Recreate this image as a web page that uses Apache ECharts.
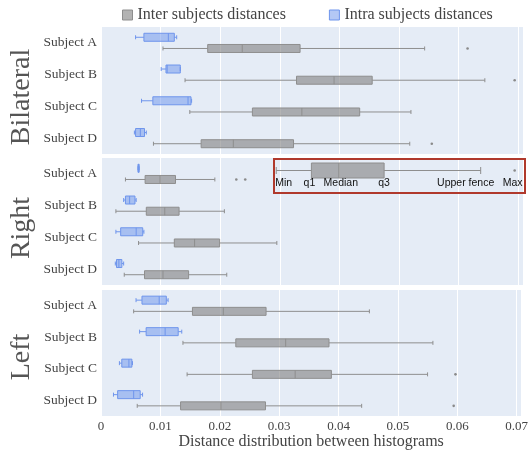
<!DOCTYPE html>
<html>
<head>
<meta charset="utf-8">
<script src="https://cdn.jsdelivr.net/npm/echarts@6/dist/echarts.min.js"></script>
<style>html,body{margin:0;padding:0;background:#fff}#c{width:531px;height:453px}</style>
</head>
<body>
<div id="c"></div>
<script>
// ---- DATA: each row = [lower whisker, q1, median, q3, upper whisker] ----
const subjects = ['Subject A', 'Subject B', 'Subject C', 'Subject D'];
const panels = ['Bilateral', 'Right', 'Left'];
const seriesNames = ['Inter subjects distances', 'Intra subjects distances'];
const xTicks = [0, 0.01, 0.02, 0.03, 0.04, 0.05, 0.06, 0.07];

const bilateralIntra = [[0.0058,0.0072,0.0113,0.0123,0.0127],[0.0101,0.0109,0.0111,0.0133,0.0133],[0.0068,0.0087,0.0146,0.0151,0.0152],[0.0056,0.0058,0.0066,0.0073,0.0076]];
const bilateralInter = [[0.0104,0.0179,0.0237,0.0334,0.0543],[0.0141,0.0328,0.0391,0.0455,0.0644],[0.0149,0.0254,0.0337,0.0434,0.0520],[0.0088,0.0168,0.0222,0.0323,0.0518]];
const bilateralOutliers = [[0,0.0615],[1,0.0694],[3,0.0555]];

const rightIntra = [[0.0062,0.0062,0.0063,0.0064,0.0064],[0.0038,0.0041,0.0048,0.0057,0.0059],[0.0025,0.0033,0.0059,0.0070,0.0072],[0.0024,0.0026,0.0030,0.0035,0.0038]];
const rightInter = [[0.0041,0.0074,0.0099,0.0125,0.0191],[0.0025,0.0076,0.0107,0.0131,0.0207],[0.0063,0.0123,0.0157,0.0199,0.0295],[0.0039,0.0073,0.0104,0.0147,0.0211]];
const rightOutliers = [[0,0.0227],[0,0.0242]];

const leftIntra = [[0.0059,0.0069,0.0098,0.0110,0.0113],[0.0065,0.0076,0.0108,0.0130,0.0136],[0.0031,0.0035,0.0047,0.0052,0.0053],[0.0021,0.0028,0.0055,0.0066,0.0070]];
const leftInter = [[0.0055,0.0154,0.0206,0.0278,0.0452],[0.0138,0.0227,0.0311,0.0384,0.0559],[0.0145,0.0255,0.0327,0.0388,0.0550],[0.0061,0.0134,0.0202,0.0277,0.0439]];
const leftOutliers = [[2,0.0597],[3,0.0594]];

// key (inset) box: [min, q1, median, q3, upper fence] and max outlier
const keyBox = [0.0294,0.0353,0.0399,0.0475,0.0637];
const keyMax = 0.0694;
const keyLabels = ['Min','q1','Median','q3','Upper fence','Max'];

// ---- STYLE ----
const SERIF = '"Liberation Serif", "Times New Roman", serif';
const SANS = '"Liberation Sans", Arial, sans-serif';
const interFill = 'rgba(128,128,128,0.6)', interStroke = '#8e8e8e';
const intraFill = 'rgba(105,145,236,0.5)', intraStroke = '#6f95ec';
const gridTops = [27, 158, 290], gridHeights = [127, 127, 126];
const GL = 101, GW = 422, XMAX = 0.0708;

function boxRender(offset, half, cap, fill, stroke) {
  return function (params, api) {
    const c = api.value(0);
    const xs = [1,2,3,4,5].map(d => api.coord([api.value(d), c])[0]);
    const y = api.coord([0, c])[1] + offset;
    const ln = (x1,y1,x2,y2) => ({type:'line', shape:{x1,y1,x2,y2}, style:{stroke, lineWidth:1}});
    return {type:'group', children:[
      ln(xs[0], y, xs[1], y),
      ln(xs[3], y, xs[4], y),
      ln(xs[0], y-cap, xs[0], y+cap),
      ln(xs[4], y-cap, xs[4], y+cap),
      {type:'rect', shape:{x:xs[1], y:y-half, width:Math.max(xs[3]-xs[1], 0.5), height:2*half}, style:{fill, stroke, lineWidth:1}},
      ln(xs[2], y-half, xs[2], y+half)
    ]};
  };
}
function outlierRender(offset) {
  return function (params, api) {
    const p = api.coord([api.value(1), api.value(0)]);
    return {type:'circle', shape:{cx:p[0], cy:p[1]+offset, r:1.3}, style:{fill:'#8a8a8a'}};
  };
}
function boxSeries(name, gi, rows, offset, fill, stroke) {
  return {type:'custom', name, xAxisIndex:gi, yAxisIndex:gi, silent:true,
    data: rows.map((r,i) => [i, ...r]), encode:{x:[1,2,3,4,5], y:0},
    itemStyle:{color:fill, borderColor:stroke},
    renderItem: boxRender(offset, 4, 2, fill, stroke)};
}
function outSeries(gi, pts, offset) {
  return {type:'custom', xAxisIndex:gi, yAxisIndex:gi, silent:true,
    data: pts.map(p => [p[0], p[1]]), encode:{x:1, y:0}, renderItem: outlierRender(offset)};
}

const intraSets = [bilateralIntra, rightIntra, leftIntra];
const interSets = [bilateralInter, rightInter, leftInter];
const outSets = [bilateralOutliers, rightOutliers, leftOutliers];

const grids = [], xAxes = [], yAxes = [], series = [];
for (let g = 0; g < 3; g++) {
  grids.push({left:GL, width:GW, top:gridTops[g], height:gridHeights[g], show:true, backgroundColor:'#e5ecf6', borderWidth:0});
  xAxes.push({gridIndex:g, type:'value', min:0, max:XMAX, interval:0.01,
    axisLine:{show:false}, axisTick:{show:false},
    splitLine:{show:true, lineStyle:{color:'#ffffff', width:1}},
    axisLabel:{show:g===2, margin:4, fontFamily:SERIF, fontSize:13, color:'#444',
      formatter: v => { const t = xTicks.find(k => Math.abs(k - v) < 1e-9); return t === undefined ? '' : (t === 0 ? '0' : t.toFixed(2)); }},
    name: g===2 ? 'Distance distribution between histograms' : '',
    nameLocation:'middle', nameGap:17, nameTextStyle:{fontFamily:SERIF, fontSize:16, color:'#444'}});
  yAxes.push({gridIndex:g, type:'category', data:subjects, inverse:true,
    axisLine:{show:false}, axisTick:{show:false}, splitLine:{show:false},
    axisLabel:{margin:4, fontFamily:SERIF, fontSize:13.5, color:'#444'}});
  series.push(boxSeries(seriesNames[1], g, intraSets[g], -5.6, intraFill, intraStroke));
  series.push(boxSeries(seriesNames[0], g, interSets[g], 5.6, interFill, interStroke));
  series.push(outSeries(g, outSets[g], 5.6));
}
// key inset grid
grids.push({left:GL, width:GW, top:159, height:23, show:false});
xAxes.push({gridIndex:3, type:'value', min:0, max:XMAX, show:false, splitLine:{show:false}});
yAxes.push({gridIndex:3, type:'category', data:['key'], show:false});
series.push({type:'custom', xAxisIndex:3, yAxisIndex:3, silent:true,
  data:[[0, ...keyBox]], encode:{x:[1,2,3,4,5], y:0},
  renderItem: boxRender(0, 7.5, 3.5, interFill, interStroke)});
series.push(outSeries(3, [[0, keyMax]], 0));
const keyAnchors = [...keyBox, keyMax];
const keyAlign = ['left','center','center','center','center','center'];
const keyDx = [-1, -2, 2, 0, -15, -2];
series.push({type:'custom', xAxisIndex:3, yAxisIndex:3, silent:true,
  data: keyAnchors.map((v,i) => [0, v, i]), encode:{x:1, y:0},
  renderItem: function (params, api) {
    const i = api.value(2);
    const p = api.coord([api.value(1), 0]);
    return {type:'text', x:p[0] + keyDx[i], y:p[1] + 12.5,
      style:{text:keyLabels[i], fontFamily:SANS, fontSize:10.5, fill:'#111', align:keyAlign[i], verticalAlign:'middle'}};
  }});

const option = {
  animation:false,
  backgroundColor:'#ffffff',
  legend:{
    left:122, top:7, padding:0, itemGap:43, itemWidth:10, itemHeight:10, icon:'rect', selectedMode:false,
    textStyle:{fontFamily:SERIF, fontSize:16, color:'#444', lineHeight:16},
    data:[
      {name:seriesNames[0], itemStyle:{color:interFill, borderColor:interStroke, borderWidth:1}},
      {name:seriesNames[1], itemStyle:{color:intraFill, borderColor:intraStroke, borderWidth:1}}
    ]
  },
  grid:grids, xAxis:xAxes, yAxis:yAxes, series:series,
  graphic:[
    {type:'rect', shape:{x:274, y:159, width:251, height:34}, style:{fill:'none', stroke:'#b0392c', lineWidth:2}, z:50},
    {type:'text', x:22, y:97, rotation:Math.PI/2, style:{text:panels[0], fontFamily:SERIF, fontSize:28, fill:'#555', align:'center', verticalAlign:'middle'}},
    {type:'text', x:22, y:228, rotation:Math.PI/2, style:{text:panels[1], fontFamily:SERIF, fontSize:28, fill:'#555', align:'center', verticalAlign:'middle'}},
    {type:'text', x:22, y:357, rotation:Math.PI/2, style:{text:panels[2], fontFamily:SERIF, fontSize:28, fill:'#555', align:'center', verticalAlign:'middle'}}
  ]
};
const chart = echarts.init(document.getElementById('c'), null, {renderer:'canvas'});
chart.setOption(option);
</script>
</body>
</html>
